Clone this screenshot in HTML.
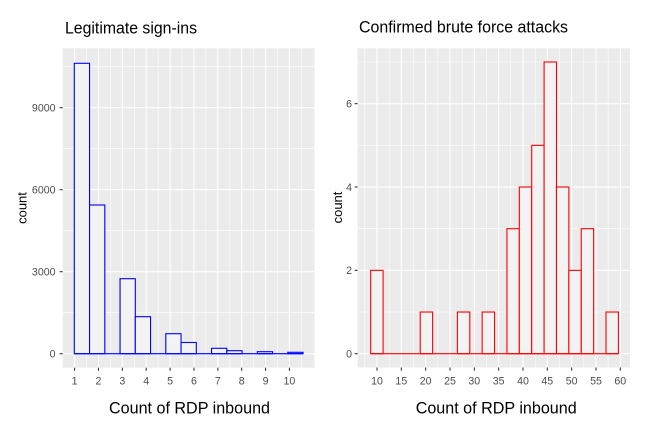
<!DOCTYPE html>
<html>
<head>
<meta charset="utf-8">
<style>
html,body{margin:0;padding:0;background:#fff;}
svg{display:block;}
text{font-family:"Liberation Sans",sans-serif;}
</style>
</head>
<body>
<svg width="658" height="433" viewBox="0 0 658 433" xmlns="http://www.w3.org/2000/svg">
<rect x="0" y="0" width="658" height="433" fill="#fff"/>

<!-- ================= LEFT PANEL ================= -->
<rect x="62.7" y="48.3" width="251.6" height="319.4" fill="#EBEBEB"/>
<g stroke="#fff" stroke-width="0.55" fill="none">
  <line x1="62.7" x2="314.3" y1="312.7" y2="312.7"/>
  <line x1="62.7" x2="314.3" y1="230.7" y2="230.7"/>
  <line x1="62.7" x2="314.3" y1="148.7" y2="148.7"/>
  <line x1="62.7" x2="314.3" y1="66.7" y2="66.7"/>
  <line y1="48.3" y2="367.7" x1="86.5" x2="86.5"/>
  <line y1="48.3" y2="367.7" x1="110.4" x2="110.4"/>
  <line y1="48.3" y2="367.7" x1="134.3" x2="134.3"/>
  <line y1="48.3" y2="367.7" x1="158.1" x2="158.1"/>
  <line y1="48.3" y2="367.7" x1="182" x2="182"/>
  <line y1="48.3" y2="367.7" x1="205.9" x2="205.9"/>
  <line y1="48.3" y2="367.7" x1="229.8" x2="229.8"/>
  <line y1="48.3" y2="367.7" x1="253.6" x2="253.6"/>
  <line y1="48.3" y2="367.7" x1="277.5" x2="277.5"/>
  <line y1="48.3" y2="367.7" x1="301.4" x2="301.4"/>
</g>
<g stroke="#fff" stroke-width="1.1" fill="none">
  <line x1="62.7" x2="314.3" y1="353.7" y2="353.7"/>
  <line x1="62.7" x2="314.3" y1="271.7" y2="271.7"/>
  <line x1="62.7" x2="314.3" y1="189.7" y2="189.7"/>
  <line x1="62.7" x2="314.3" y1="107.7" y2="107.7"/>
  <line y1="48.3" y2="367.7" x1="74.6" x2="74.6"/>
  <line y1="48.3" y2="367.7" x1="98.47" x2="98.47"/>
  <line y1="48.3" y2="367.7" x1="122.34" x2="122.34"/>
  <line y1="48.3" y2="367.7" x1="146.21" x2="146.21"/>
  <line y1="48.3" y2="367.7" x1="170.08" x2="170.08"/>
  <line y1="48.3" y2="367.7" x1="193.95" x2="193.95"/>
  <line y1="48.3" y2="367.7" x1="217.82" x2="217.82"/>
  <line y1="48.3" y2="367.7" x1="241.69" x2="241.69"/>
  <line y1="48.3" y2="367.7" x1="265.56" x2="265.56"/>
  <line y1="48.3" y2="367.7" x1="289.43" x2="289.43"/>
</g>
<g fill="#F3F3F3" stroke="#0000FF" stroke-width="1.1">
  <rect x="74.3" y="63.3" width="15.25" height="290.4"/>
  <rect x="89.55" y="205" width="15.25" height="148.7"/>
  <rect x="120.05" y="278.7" width="15.25" height="75"/>
  <rect x="135.3" y="316.7" width="15.25" height="37"/>
  <rect x="165.8" y="333.7" width="15.25" height="20"/>
  <rect x="181.05" y="342.5" width="15.25" height="11.2"/>
  <rect x="211.55" y="348.3" width="15.25" height="5.4"/>
  <rect x="226.8" y="350.7" width="15.25" height="3"/>
  <rect x="257.3" y="351.7" width="15.25" height="2"/>
  <rect x="287.8" y="352.3" width="15.25" height="1.4"/>
  <line x1="74.3" x2="303.05" y1="353.7" y2="353.7"/>
</g>
<!-- left axes ticks -->
<g stroke="#333" stroke-width="1.07">
  <line x1="59.6" x2="62.7" y1="353.7" y2="353.7"/>
  <line x1="59.6" x2="62.7" y1="271.7" y2="271.7"/>
  <line x1="59.6" x2="62.7" y1="189.7" y2="189.7"/>
  <line x1="59.6" x2="62.7" y1="107.7" y2="107.7"/>
  <line y1="367.7" y2="370.8" x1="74.6" x2="74.6"/>
  <line y1="367.7" y2="370.8" x1="98.47" x2="98.47"/>
  <line y1="367.7" y2="370.8" x1="122.34" x2="122.34"/>
  <line y1="367.7" y2="370.8" x1="146.21" x2="146.21"/>
  <line y1="367.7" y2="370.8" x1="170.08" x2="170.08"/>
  <line y1="367.7" y2="370.8" x1="193.95" x2="193.95"/>
  <line y1="367.7" y2="370.8" x1="217.82" x2="217.82"/>
  <line y1="367.7" y2="370.8" x1="241.69" x2="241.69"/>
  <line y1="367.7" y2="370.8" x1="265.56" x2="265.56"/>
  <line y1="367.7" y2="370.8" x1="289.43" x2="289.43"/>
</g>
<g fill="#4D4D4D" font-size="10.6" text-anchor="end">
  <text x="55.5" y="357.5">0</text>
  <text x="55.5" y="275.5">3000</text>
  <text x="55.5" y="193.5">6000</text>
  <text x="55.5" y="111.5">9000</text>
</g>
<g fill="#4D4D4D" font-size="10.6" text-anchor="middle">
  <text x="74.6" y="384.3">1</text>
  <text x="98.47" y="384.3">2</text>
  <text x="122.34" y="384.3">3</text>
  <text x="146.21" y="384.3">4</text>
  <text x="170.08" y="384.3">5</text>
  <text x="193.95" y="384.3">6</text>
  <text x="217.82" y="384.3">7</text>
  <text x="241.69" y="384.3">8</text>
  <text x="265.56" y="384.3">9</text>
  <text x="289.43" y="384.3">10</text>
</g>
<text x="65" y="33.3" font-size="17" fill="#000" textLength="132" lengthAdjust="spacingAndGlyphs">Legitimate sign-ins</text>
<text x="109" y="413.3" font-size="16.5" fill="#000" textLength="161" lengthAdjust="spacingAndGlyphs">Count of RDP inbound</text>
<text transform="translate(26.5,208) rotate(-90)" text-anchor="middle" font-size="13" fill="#000">count</text>

<!-- ================= RIGHT PANEL ================= -->
<rect x="357.7" y="48.3" width="272.3" height="319.2" fill="#EBEBEB"/>
<g stroke="#fff" stroke-width="0.55" fill="none">
  <line x1="357.7" x2="630" y1="312.03" y2="312.03"/>
  <line x1="357.7" x2="630" y1="228.69" y2="228.69"/>
  <line x1="357.7" x2="630" y1="145.35" y2="145.35"/>
  <line x1="357.7" x2="630" y1="62.01" y2="62.01"/>
  <line y1="48.3" y2="367.5" x1="364.84" x2="364.84"/>
  <line y1="48.3" y2="367.5" x1="389.17" x2="389.17"/>
  <line y1="48.3" y2="367.5" x1="413.5" x2="413.5"/>
  <line y1="48.3" y2="367.5" x1="437.83" x2="437.83"/>
  <line y1="48.3" y2="367.5" x1="462.16" x2="462.16"/>
  <line y1="48.3" y2="367.5" x1="486.49" x2="486.49"/>
  <line y1="48.3" y2="367.5" x1="510.82" x2="510.82"/>
  <line y1="48.3" y2="367.5" x1="535.15" x2="535.15"/>
  <line y1="48.3" y2="367.5" x1="559.48" x2="559.48"/>
  <line y1="48.3" y2="367.5" x1="583.81" x2="583.81"/>
  <line y1="48.3" y2="367.5" x1="608.14" x2="608.14"/>
</g>
<g stroke="#fff" stroke-width="1.1" fill="none">
  <line x1="357.7" x2="630" y1="353.7" y2="353.7"/>
  <line x1="357.7" x2="630" y1="270.36" y2="270.36"/>
  <line x1="357.7" x2="630" y1="187.02" y2="187.02"/>
  <line x1="357.7" x2="630" y1="103.68" y2="103.68"/>
  <line y1="48.3" y2="367.5" x1="377" x2="377"/>
  <line y1="48.3" y2="367.5" x1="401.33" x2="401.33"/>
  <line y1="48.3" y2="367.5" x1="425.66" x2="425.66"/>
  <line y1="48.3" y2="367.5" x1="449.99" x2="449.99"/>
  <line y1="48.3" y2="367.5" x1="474.32" x2="474.32"/>
  <line y1="48.3" y2="367.5" x1="498.65" x2="498.65"/>
  <line y1="48.3" y2="367.5" x1="522.98" x2="522.98"/>
  <line y1="48.3" y2="367.5" x1="547.31" x2="547.31"/>
  <line y1="48.3" y2="367.5" x1="571.64" x2="571.64"/>
  <line y1="48.3" y2="367.5" x1="595.97" x2="595.97"/>
  <line y1="48.3" y2="367.5" x1="620.3" x2="620.3"/>
</g>
<g fill="#F3F3F3" stroke="#FF0000" stroke-width="1.1">
  <rect x="370.7" y="270.36" width="12.385" height="83.34"/>
  <rect x="420.24" y="312.03" width="12.385" height="41.67"/>
  <rect x="457.4" y="312.03" width="12.385" height="41.67"/>
  <rect x="482.17" y="312.03" width="12.385" height="41.67"/>
  <rect x="506.94" y="228.69" width="12.385" height="125.01"/>
  <rect x="519.32" y="187.02" width="12.385" height="166.68"/>
  <rect x="531.71" y="145.35" width="12.385" height="208.35"/>
  <rect x="544.09" y="62.01" width="12.385" height="291.69"/>
  <rect x="556.48" y="187.02" width="12.385" height="166.68"/>
  <rect x="568.86" y="270.36" width="12.385" height="83.34"/>
  <rect x="581.25" y="228.69" width="12.385" height="125.01"/>
  <rect x="606.02" y="312.03" width="12.385" height="41.67"/>
  <line x1="370.7" x2="618.4" y1="353.7" y2="353.7"/>
</g>
<g stroke="#333" stroke-width="1.07">
  <line x1="354.6" x2="357.7" y1="353.7" y2="353.7"/>
  <line x1="354.6" x2="357.7" y1="270.36" y2="270.36"/>
  <line x1="354.6" x2="357.7" y1="187.02" y2="187.02"/>
  <line x1="354.6" x2="357.7" y1="103.68" y2="103.68"/>
  <line y1="367.5" y2="370.6" x1="377" x2="377"/>
  <line y1="367.5" y2="370.6" x1="401.33" x2="401.33"/>
  <line y1="367.5" y2="370.6" x1="425.66" x2="425.66"/>
  <line y1="367.5" y2="370.6" x1="449.99" x2="449.99"/>
  <line y1="367.5" y2="370.6" x1="474.32" x2="474.32"/>
  <line y1="367.5" y2="370.6" x1="498.65" x2="498.65"/>
  <line y1="367.5" y2="370.6" x1="522.98" x2="522.98"/>
  <line y1="367.5" y2="370.6" x1="547.31" x2="547.31"/>
  <line y1="367.5" y2="370.6" x1="571.64" x2="571.64"/>
  <line y1="367.5" y2="370.6" x1="595.97" x2="595.97"/>
  <line y1="367.5" y2="370.6" x1="620.3" x2="620.3"/>
</g>
<g fill="#4D4D4D" font-size="10.6" text-anchor="end">
  <text x="352" y="357.5">0</text>
  <text x="352" y="274.2">2</text>
  <text x="352" y="190.8">4</text>
  <text x="352" y="107.5">6</text>
</g>
<g fill="#4D4D4D" font-size="10.6" text-anchor="middle">
  <text x="377" y="384.3">10</text>
  <text x="401.33" y="384.3">15</text>
  <text x="425.66" y="384.3">20</text>
  <text x="449.99" y="384.3">25</text>
  <text x="474.32" y="384.3">30</text>
  <text x="498.65" y="384.3">35</text>
  <text x="522.98" y="384.3">40</text>
  <text x="547.31" y="384.3">45</text>
  <text x="571.64" y="384.3">50</text>
  <text x="595.97" y="384.3">55</text>
  <text x="620.3" y="384.3">60</text>
</g>
<text x="359" y="32.5" font-size="17" fill="#000" textLength="209" lengthAdjust="spacingAndGlyphs">Confirmed brute force attacks</text>
<text x="415.7" y="413.3" font-size="16.5" fill="#000" textLength="161" lengthAdjust="spacingAndGlyphs">Count of RDP inbound</text>
<text transform="translate(342,207.5) rotate(-90)" text-anchor="middle" font-size="13" fill="#000">count</text>
</svg>
</body>
</html>
